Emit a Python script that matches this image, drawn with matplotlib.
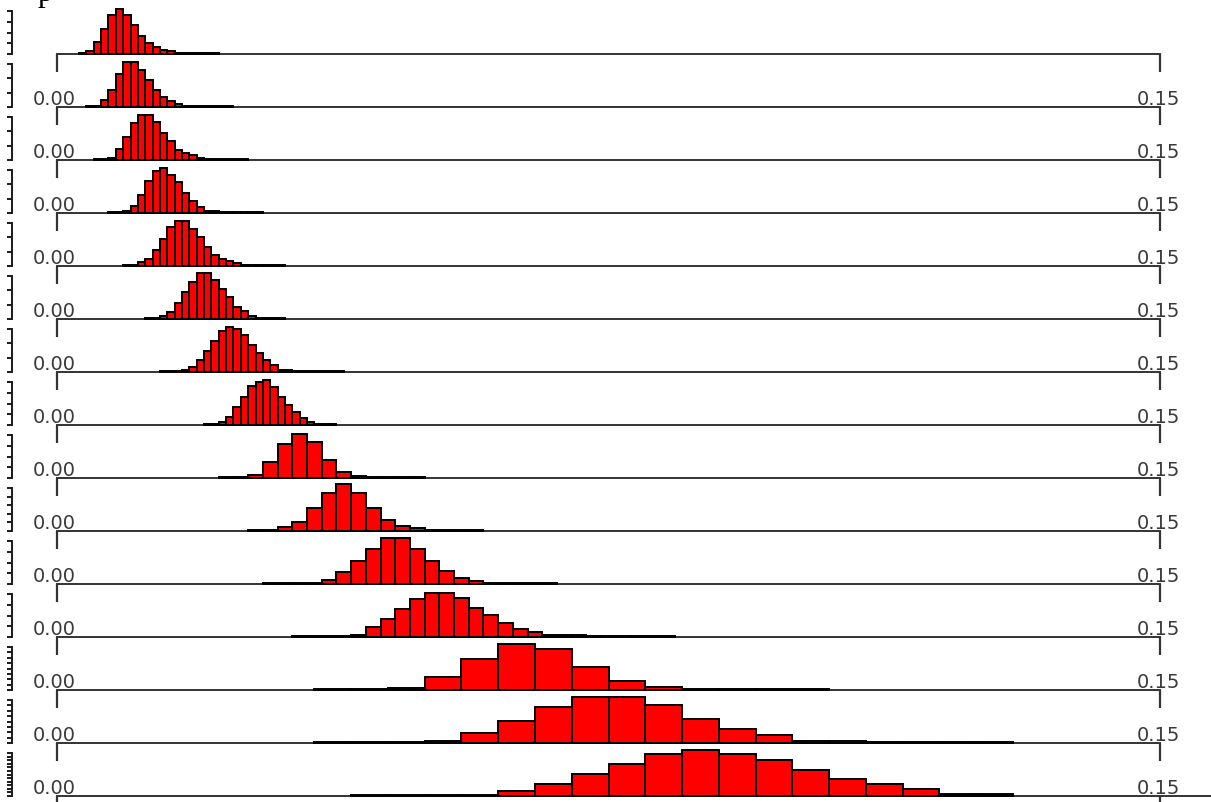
import numpy as np
import matplotlib
matplotlib.use("Agg")
import matplotlib.pyplot as plt

# %%
# figure size in pixels (saved at dpi 100)
W, H = 1211, 803

# bin widths and first bin index of every row (top to bottom)
bin_width = [0.001] * 8 + [0.002] * 4 + [0.005] * 3
first_bin = [3, 4, 5, 7, 9, 12, 14, 20, 11, 13, 14, 16, 7, 7, 8]

# bar heights per row (same scale for every row)
h01 = [1.5, 3, 12, 25, 39, 45, 39, 29, 18, 11, 7, 4, 3, 1.5, 1.2, 1.2, 1.2, 1.2, 1.2]
h02 = [1.2, 1.5, 7, 17, 33, 45, 45, 37, 27, 17, 10, 6, 3, 1.5, 1.2, 1.2, 1.2, 1.2, 1.2, 1.2]
h03 = [1.2, 1.2, 2, 11, 23, 37, 45, 45, 38, 27, 19, 10, 7, 5, 2, 1.5, 1.2, 1.2, 1.2, 1.2, 1.2]
h04 = [1.2, 1.2, 2, 7, 18, 32, 42, 45, 38, 31, 20, 12, 6, 2, 2, 1.5, 1.2, 1.2, 1.2, 1.2, 1.2]
h05 = [1.2, 1.5, 4, 7, 16, 27, 39, 45, 45, 37, 29, 19, 11, 7, 5, 3, 1.5, 1.2, 1.2, 1.2, 1.2, 1.2]
h06 = [1.2, 1.5, 3, 7, 16, 27, 37, 46, 46, 39, 30, 22, 12, 8, 3, 1.5, 1.2, 1.2, 1.2]
h07 = [1.2, 1.2, 1.5, 2, 5, 12, 21, 31, 41, 45, 43, 37, 27, 19, 12, 7, 2, 2,
       1.5, 1.2, 1.2, 1.2, 1.2, 1.2, 1.2]
h08 = [1.2, 1.5, 3, 8, 18, 28, 39, 43, 45, 38, 28, 20, 13, 7, 3, 1.5, 1.2, 1.2]
h09 = [1.2, 1.5, 3, 16, 34, 44, 36, 18, 6, 2, 1.5, 1.2, 1.2, 1.2]
h10 = [1.2, 1.5, 4, 9, 23, 38, 47, 38, 23, 11, 5, 3, 1.5, 1.2, 1.2, 1.2]
h11 = [1.2, 1.2, 1.2, 1.5, 4, 12, 23, 35, 46, 46, 35, 23, 13, 6, 3, 1.5, 1.2, 1.2, 1.2, 1.2]
h12 = [1.2, 1.2, 1.2, 1.5, 2, 10, 18, 28, 38, 44, 44, 39, 29, 22, 14, 8, 5, 2,
       2, 2, 1.2, 1.2, 1.2, 1.2, 1.2, 1.2]
h13 = [1.2, 1.2, 2, 13, 31, 46, 41, 23, 9, 3, 1.2, 1.2, 1.2, 1.2]
h14 = [1.2, 1.2, 1.2, 2.5, 10, 22, 36, 46, 46, 38, 24, 14, 8, 2, 2,
       1.2, 1.2, 1.2, 1.2]
h15 = [1.2, 1.2, 1.2, 1.2, 5, 12, 22, 32, 42, 46, 42, 36, 26, 17, 12, 7, 2, 2]

rows = [h01, h02, h03, h04, h05, h06, h07, h08, h09, h10, h11, h12, h13, h14, h15]

# number of small ticks on the (cropped) count axis at the left
ytick_count = [5, 4, 4, 4, 4, 4, 4, 5, 5, 6, 5, 5, 9, 9, 13]

x_labels = ["0.00", "0.15"]

# %%
x0_px, x1_px = 57, 1160
base0, step = 55, 53
ax_w = (x1_px - x0_px) / W

fig = plt.figure(figsize=(W / 100, H / 100), dpi=100)
fig.patch.set_facecolor("white")

for i, heights in enumerate(rows):
    base = base0 + step * i
    ax = fig.add_axes([x0_px / W, (H - base) / H, ax_w, step / H])
    ax.set_xlim(0, 0.15)
    ax.set_ylim(0, step)
    ax.patch.set_visible(False)

    w = bin_width[i]
    lefts = (first_bin[i] + np.arange(len(heights))) * w
    ax.bar(lefts, heights, width=w, align="edge", color="#ff0000",
           edgecolor="black", linewidth=1.4, clip_on=False, zorder=3)

    for side in ["top", "right"]:
        ax.spines[side].set_visible(False)
    ax.spines["bottom"].set_linewidth(1.4)
    ax.spines["bottom"].set_color("#333333")
    if i == len(rows) - 1:
        # last axis line runs on to the right edge
        ax.spines["bottom"].set_bounds(0, 0.15 * (W - x0_px) / (x1_px - x0_px))

    ax.set_xticks([0, 0.15])
    ax.set_xticklabels([])
    ax.tick_params(axis="x", direction="out", length=13, width=1.6, color="#333333")

    # count axis, mostly cut off at the left edge
    top = 43
    ax.spines["left"].set_position(("axes", (12 - x0_px) / (x1_px - x0_px)))
    ax.spines["left"].set_bounds(0, top)
    ax.spines["left"].set_linewidth(1.4)
    ax.spines["left"].set_color("#1a1a1a")
    ax.set_yticks(np.linspace(0, top, ytick_count[i]))
    ax.set_yticklabels([])
    ax.tick_params(axis="y", direction="out", length=3.5, width=1.4, color="#1a1a1a")

    if i > 0:
        yb = (H - (base - 3)) / H
        fig.text(33 / W, yb, x_labels[0], ha="left", va="baseline",
                 fontsize=14, color="#3a3a3a", family="DejaVu Sans")
        fig.text(1137 / W, yb, x_labels[1], ha="left", va="baseline",
                 fontsize=14, color="#3a3a3a", family="DejaVu Sans")

# title cut off at the top of the screenshot
fig.text(38 / W, 1 - 1 / H, "p", ha="left", va="baseline", fontsize=22,
         family="Liberation Serif", color="black")

fig.savefig("out.png", dpi=100)
